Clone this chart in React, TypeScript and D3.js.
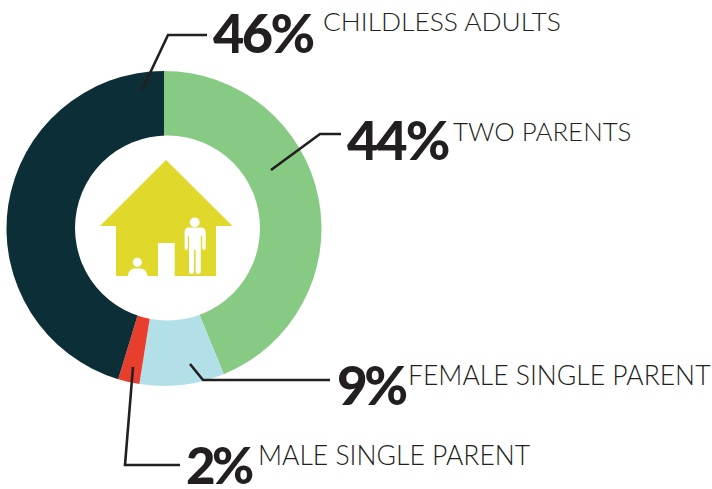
import React from "react";
import * as d3 from "d3";

const categories = ["TWO PARENTS", "FEMALE SINGLE PARENT", "MALE SINGLE PARENT", "CHILDLESS ADULTS"];
const labels = ["44%", "9%", "2%", "46%"];
const shares = [43.8, 8.7, 2.2, 45.3];
const colors = ["#87ca84", "#b3e0e8", "#e83e2d", "#0c2e36"];
const INK = "#231f20";
const HOUSE = "#e0d82b";

const pieGen = d3.pie<number>().sort(null).value((d) => d);
const arcGen = d3.arc<d3.PieArcDatum<number>>().innerRadius(0).outerRadius(157.5);

const callouts = [
  { idx: 3, pts: [[142, 90], [168, 35], [207, 35]], px: 213, py: 53, ps: 54, sp: -2.6, lx: 323, ly: 31, ls: 26.4 },
  { idx: 0, pts: [[271, 170], [320, 134], [341, 134]], px: 347, py: 160, ps: 54, sp: -2, lx: 453, ly: 141, ls: 25.9 },
  { idx: 1, pts: [[190, 364], [203, 380], [330, 380]], px: 337, py: 405, ps: 53, sp: -3.5, lx: 408, ly: 385, ls: 26.5 },
  { idx: 2, pts: [[133, 367], [125, 465], [180, 465]], px: 186, py: 484, ps: 51, sp: -3.5, lx: 258, ly: 465, ls: 26.5 },
];

export default function App() {
  const arcs = pieGen(shares);
  return (
    <svg width={712} height={489} style={{ position: "fixed", left: 0, top: 0, background: "#fff" }}>
      <g transform="translate(164,228.5)">
        {arcs.map((a, i) => (
          <path key={i} d={arcGen(a) ?? ""} fill={colors[i]} />
        ))}
      </g>
      <circle cx={167.5} cy={228} r={92.5} fill="#fff" />
      <path d="M166,160 L232.5,226 L216,226 L216,276 L174.7,276 L174.7,243 L158,243 L158,276 L116,276 L116,226 L100,226 Z" fill={HOUSE} />
      <circle cx={194.7} cy={222.3} r={4.9} fill="#fff" />
      <path d="M189,227.5 L200.5,227.5 Q205.7,227.5 205.7,232.5 L205.7,248 Q205.7,250 203.9,250 Q202.2,250 202.2,248 L202.2,236 L200.8,236 L200.8,272 Q200.8,274 198.2,274 Q195.6,274 195.6,272 L195.6,250 L194,250 L194,272 Q194,274 191.5,274 Q189,274 189,272 L189,236 L187.8,236 L187.8,248 Q187.8,250 186.2,250 Q184.6,250 184.6,248 L184.6,232.5 Q184.6,227.5 189,227.5 Z" fill="#fff" />
      <circle cx={137.3} cy={262.3} r={4.6} fill="#fff" />
      <path d="M128,276 Q128.5,269 134,268.5 L141,268.5 Q146.5,269 147.5,276 Z" fill="#fff" />
      {callouts.map((c, i) => (
        <g key={i}>
          <path d={d3.line()(c.pts as [number, number][]) ?? ""} fill="none" stroke={INK} strokeWidth={2.6} />
          <text x={c.px} y={c.py} fontFamily="Lato" fontWeight={900} fontSize={c.ps} fill={INK} letterSpacing={c.sp}>
            {labels[c.idx]}
          </text>
          <text x={c.lx} y={c.ly} fontFamily="Lato" fontWeight={300} fontSize={c.ls} fill={INK}>
            {categories[c.idx]}
          </text>
        </g>
      ))}
    </svg>
  );
}
